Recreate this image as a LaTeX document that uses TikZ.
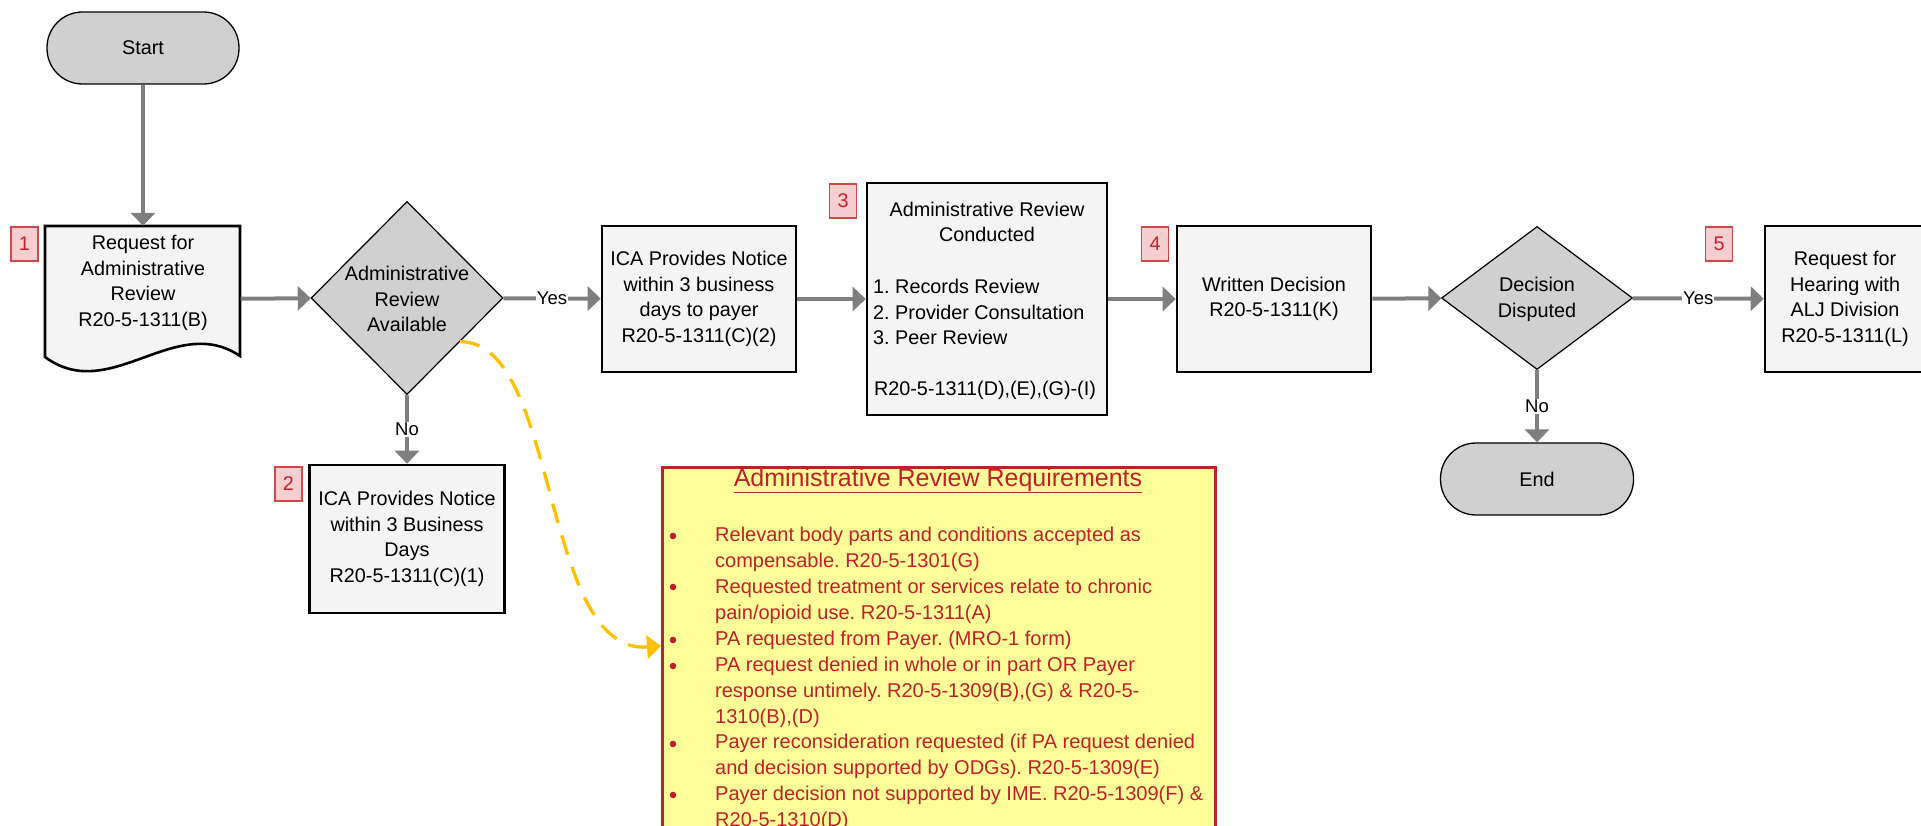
\documentclass[tikz,border=0pt]{standalone}
\usepackage{fontspec}
\setmainfont{Liberation Sans}
\usetikzlibrary{arrows.meta,shapes.geometric,calc}
\frenchspacing

\begin{document}
\begin{tikzpicture}[x=1pt, y=-1pt,
  every node/.style={font=\fontsize{19.8}{25.6}\selectfont},
  lbl/.style={align=center, inner sep=0pt},
  procbox/.style={draw, line width=2.6pt, fill=boxgray, minimum width=194pt,
    minimum height=146pt, align=center, inner sep=0pt},
  decision/.style={diamond, draw, line width=1.2pt, fill=termgray, inner sep=0pt},
  terminal/.style={draw, line width=1.3pt, fill=termgray, rounded corners=35.5pt,
    minimum width=193pt, minimum height=72pt},
  badge/.style={draw=badgeline, line width=1.2pt, fill=badgefill, text=badgetext,
    minimum width=27pt, minimum height=34pt, inner sep=0pt},
  flow/.style={draw=flowgray, line width=4pt, -{Triangle[length=13pt, width=24pt]}},
  yesno/.style={fill=white, inner sep=1pt, font=\fontsize{18.5}{20}\selectfont},
  reqarrow/.style={draw=arrowgold, line width=3.3pt, dash pattern=on 20pt off 13pt,
    -{Triangle[length=14pt, width=23pt]}}]

\definecolor{boxgray}{HTML}{F4F4F4}
\definecolor{termgray}{HTML}{D0D0D0}
\definecolor{flowgray}{HTML}{7F7F7F}
\definecolor{badgefill}{HTML}{F5CFCF}
\definecolor{badgeline}{HTML}{D04848}
\definecolor{badgetext}{HTML}{C8202A}
\definecolor{reqyellow}{HTML}{FFFF99}
\definecolor{reqred}{HTML}{C0202A}
\definecolor{arrowgold}{HTML}{FFC000}

\useasboundingbox (0,0) rectangle (1921,826);
\clip (0,0) rectangle (1921,826);

\node[terminal, minimum width=192pt] (start) at (143,48) {Start};

\node[minimum width=195pt, minimum height=146pt, inner sep=0pt] (request) at (143,299) {};
\draw[line width=2.6pt, fill=boxgray] (45,226) -- (240,226) -- (240,356)
  .. controls (175,312) and (110,405) .. (45,357) -- cycle;
\node[lbl] (requesttext) at (143,283) {Request for\\Administrative\\Review\\R20-5-1311(B)};

\node[decision, minimum width=192pt, minimum height=193pt] (avail) at (407,298) {};
\node[lbl] (availtext) at (407,299) {Administrative\\Review\\Available};

\node[procbox] (payernotice) at (699,299) {ICA Provides Notice\\within 3 business\\days to payer\\R20-5-1311(C)(2)};
\node[procbox, minimum width=195pt, minimum height=148pt] (daysnotice) at (407,539) {ICA Provides Notice\\within 3 Business\\Days\\R20-5-1311(C)(1)};

\node[procbox, minimum width=240pt, minimum height=232pt] (review) at (987,299) {};
\node[lbl] (reviewhead) at (987,222) {Administrative Review\\Conducted};
\node[lbl, align=left, anchor=west] (reviewsteps) at (873,312) {1. Records Review\\2. Provider Consultation\\3. Peer Review};
\node[lbl] (reviewrule) at (985,390) {R20-5-1311(D),(E),(G)-(I)};

\node[procbox] (decision) at (1274,299) {Written Decision\\R20-5-1311(K)};
\node[decision, minimum width=191pt, minimum height=143pt] (disputed) at (1537,298) {};
\node[lbl] (disputedtext) at (1537,299.5) {Decision\\Disputed};
\node[terminal] (finish) at (1537,479) {End};
\node[procbox, minimum width=160pt] (hearing) at (1845,299) {Request for\\Hearing with\\ALJ Division\\R20-5-1311(L)};

\node[badge] (badge1) at (24.5,244) {1};
\node[badge] (badge2) at (288.5,484) {2};
\node[badge] (badge3) at (843,201) {3};
\node[badge] (badge4) at (1155,244) {4};
\node[badge] (badge5) at (1719,244) {5};

\draw[flow] (start) -- (request);
\draw[flow] (request) -- (avail);
\draw[flow] (avail) -- node[yesno] (yes1) {Yes} (payernotice);
\draw[flow] (avail) -- node[yesno] (no1) {No} (daysnotice);
\draw[flow] (payernotice) -- (review);
\draw[flow] (review) -- (decision);
\draw[flow] (decision) -- (disputed);
\draw[flow] (disputed) -- node[yesno] (yes2) {Yes} (hearing);
\draw[flow] (disputed) -- node[yesno] (no2) {No} (finish);

% requirements note
\node[draw=reqred, line width=2.8pt, fill=reqyellow, minimum width=553pt,
  minimum height=384pt, anchor=north west, inner sep=0pt] (reqbox) at (661,466) {};
\node[lbl, anchor=base, text=reqred, font=\fontsize{25}{30}\selectfont] (reqtitle) at (938,486)
  {\underline{Administrative Review Requirements}};
\node[lbl, align=left, anchor=north west, text=reqred, font=\fontsize{20}{25.9}\selectfont] (reqlist) at (715,527)
  {Relevant body parts and conditions accepted as\\compensable. R20-5-1301(G)\\
   Requested treatment or services relate to chronic\\pain/opioid use. R20-5-1311(A)\\
   PA requested from Payer. (MRO-1 form)\\
   PA request denied in whole or in part OR Payer\\response untimely. R20-5-1309(B),(G) \& R20-5-\\1310(B),(D)\\
   Payer reconsideration requested (if PA request denied\\and decision supported by ODGs). R20-5-1309(E)\\
   Payer decision not supported by IME. R20-5-1309(F) \&\\R20-5-1310(D)};
\foreach \by in {536,587,640,666,744,795}
  \fill[reqred] (673,\by) circle (3.3pt);

\coordinate (reqin) at (661,646);
\draw[reqarrow] ($(avail.east)!0.45!(avail.south)$) .. controls (560,341) and (540,655) .. (reqin);

\end{tikzpicture}
\end{document}
